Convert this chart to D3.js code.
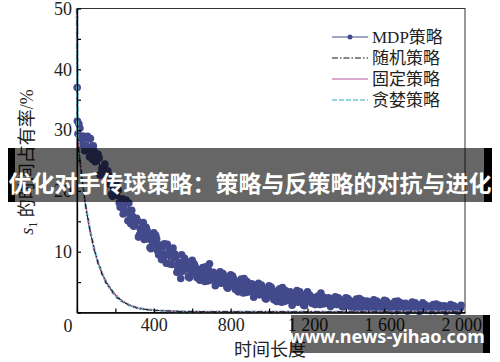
<!DOCTYPE html>
<html>
<head>
<meta charset="utf-8">
<script src="https://cdn.jsdelivr.net/npm/d3@7"></script>
<style>
  body { margin: 0; background: #fff; }
  svg { display: block; }
</style>
</head>
<body>
<svg width="500" height="362"></svg>
<script>
// Series names (legend order)
const seriesNames = ["MDP策略", "随机策略", "固定策略", "贪婪策略"];

// MDP strategy: share of s1 (%), two interleaved samplings
const mdpTimeA = [1, 2].concat(d3.range(10, 2001, 10));
const mdpValueA = [37, 31.5,
  31.0, 28.3, 29.0, 26.6, 28.7, 27.1, 28.6, 25.2, 26.5, 25.0,
  26.0, 22.6, 23.7, 23.8, 21.5, 23.3, 21.1, 19.5, 20.5, 21.4,
  20.8, 18.0, 18.6, 16.2, 18.2, 16.6, 18.0, 14.6, 15.8, 14.3,
  15.5, 12.4, 13.7, 14.1, 12.0, 14.0, 12.1, 10.7, 12.0, 13.1,
  12.7, 10.1, 10.9, 8.7, 10.9, 9.5, 11.2, 8.0, 9.5, 10.6,
  9.6, 6.6, 8.2, 5.6, 6.8, 8.9, 7.2, 5.9, 7.4, 8.6,
  8.0, 6.2, 6.8, 5.3, 7.1, 6.2, 7.5, 5.2, 8.0, 5.5,
  6.6, 4.4, 5.7, 6.1, 4.8, 6.4, 5.1, 4.2, 5.3, 6.2,
  6.0, 4.2, 4.9, 3.4, 5.2, 4.3, 5.6, 3.3, 4.5, 3.6,
  4.7, 2.5, 3.8, 4.2, 2.9, 4.5, 3.2, 2.3, 3.4, 4.4,
  4.2, 2.5, 3.2, 1.8, 3.6, 2.7, 4.1, 1.8, 3.1, 2.2,
  3.4, 1.2, 2.5, 2.9, 1.7, 3.4, 2.1, 1.2, 2.4, 3.4,
  2.9, 1.7, 2.3, 1.3, 2.5, 1.9, 3.2, 1.4, 2.2, 1.7,
  2.4, 1.0, 1.8, 2.1, 1.3, 2.4, 1.5, 1.0, 1.7, 2.4,
  2.3, 1.2, 1.7, 0.7, 1.9, 1.4, 2.3, 0.8, 1.6, 1.1,
  1.9, 0.5, 1.3, 1.6, 0.8, 1.9, 1.1, 0.5, 1.3, 2.0,
  1.9, 0.7, 1.3, 0.3, 1.5, 1.0, 1.9, 0.4, 1.3, 0.8,
  1.5, 0.2, 1.0, 1.3, 0.4, 1.6, 0.7, 0.2, 1.0, 1.6,
  1.3, 0.5, 0.9, 0.3, 1.1, 0.7, 1.4, 0.4, 1.0, 0.6,
  1.1, 0.2, 0.7, 1.0, 0.4, 1.1, 0.6, 0.2, 0.7, 1.2];
const mdpTimeB = d3.range(5, 2000, 10);
const mdpValueB = [
  29.4, 30.3, 27.6, 29.0, 27.4, 29.0, 25.6, 26.8, 27.4, 24.8,
  25.6, 25.4, 22.9, 23.2, 24.4, 21.5, 22.6, 21.5, 19.1, 20.1,
  19.3, 20.1, 17.3, 18.7, 17.0, 18.5, 15.1, 16.2, 16.8, 14.2,
  15.0, 15.1, 12.8, 13.3, 14.8, 12.2, 13.5, 12.6, 10.5, 11.7,
  11.1, 12.1, 9.5, 11.1, 9.6, 11.3, 8.1, 9.5, 10.3, 7.9,
  9.0, 9.2, 7.2, 7.9, 9.5, 7.0, 8.5, 7.7, 5.7, 7.1,
  6.7, 7.6, 5.7, 7.0, 6.0, 7.4, 5.1, 6.2, 7.0, 5.3,
  6.2, 6.4, 4.9, 5.5, 6.7, 4.9, 6.0, 5.5, 4.0, 5.1,
  4.7, 5.6, 3.8, 5.1, 4.1, 5.5, 3.2, 4.3, 5.1, 3.4,
  4.3, 4.5, 3.0, 3.6, 4.8, 3.0, 4.2, 3.6, 2.2, 3.2,
  3.0, 3.9, 2.1, 3.4, 2.5, 3.9, 1.7, 2.8, 3.6, 2.0,
  2.9, 3.1, 1.7, 2.3, 3.6, 1.9, 3.0, 2.5, 1.1, 2.2,
  2.0, 2.7, 1.5, 2.4, 1.8, 2.7, 1.3, 2.0, 2.5, 1.5,
  2.1, 2.3, 1.3, 1.7, 2.6, 1.4, 2.2, 1.8, 0.9, 1.6,
  1.4, 2.1, 0.9, 1.8, 1.2, 2.2, 0.7, 1.5, 2.0, 0.9,
  1.5, 1.7, 0.8, 1.2, 2.1, 0.9, 1.7, 1.4, 0.4, 1.2,
  1.0, 1.6, 0.5, 1.4, 0.8, 1.8, 0.3, 1.1, 1.6, 0.6,
  1.2, 1.4, 0.4, 0.9, 1.7, 0.6, 1.4, 1.0, 0.2, 0.9,
  0.7, 1.2, 0.4, 1.0, 0.6, 1.3, 0.3, 0.8, 1.2, 0.4,
  0.9, 1.0, 0.3, 0.6, 1.3, 0.4, 1.0, 0.8, 0.2, 0.7];

// The three baseline strategies share one time grid
const baseTime = [0, 3].concat(d3.range(10, 601, 10), d3.range(650, 2001, 50));
const randomValue = [50, 29.5,
  26.2, 23.9, 20.6, 18.9, 16.3, 15.1, 12.8, 11.9, 10.1, 9.5,
  7.9, 7.5, 6.2, 6.0, 4.8, 4.8, 3.9, 3.8, 3.0, 3.0,
  2.3, 2.4, 1.8, 1.9, 1.5, 1.5, 1.1, 1.2, 0.9, 1.0,
  0.7, 0.8, 0.6, 0.7, 0.5, 0.55, 0.4, 0.5, 0.35, 0.42,
  0.3, 0.38, 0.28, 0.33, 0.25, 0.3, 0.22, 0.27, 0.2, 0.25,
  0.18, 0.22, 0.17, 0.2, 0.15, 0.18, 0.14, 0.17, 0.13, 0.15,
  0.13, 0.11, 0.14, 0.1, 0.12, 0.11, 0.13, 0.1, 0.12, 0.11,
  0.1, 0.12, 0.11, 0.1, 0.12, 0.1, 0.11, 0.1, 0.12, 0.1,
  0.11, 0.1, 0.1, 0.11, 0.1, 0.1, 0.11, 0.1];
const fixedValue = [50, 28.8,
  27.0, 23.2, 21.5, 18.3, 17.0, 14.4, 13.6, 11.4, 10.8, 8.9,
  8.6, 7.0, 6.8, 5.5, 5.4, 4.3, 4.4, 3.4, 3.5, 2.7,
  2.8, 2.1, 2.2, 1.6, 1.8, 1.3, 1.4, 1.0, 1.1, 0.8,
  0.9, 0.65, 0.75, 0.55, 0.6, 0.45, 0.5, 0.38, 0.45, 0.33,
  0.38, 0.3, 0.34, 0.28, 0.3, 0.25, 0.28, 0.22, 0.25, 0.2,
  0.22, 0.18, 0.2, 0.17, 0.19, 0.15, 0.17, 0.14, 0.16, 0.14,
  0.12, 0.14, 0.1, 0.13, 0.11, 0.12, 0.1, 0.13, 0.11, 0.12,
  0.1, 0.11, 0.12, 0.1, 0.11, 0.12, 0.1, 0.11, 0.1, 0.12,
  0.1, 0.11, 0.1, 0.11, 0.1, 0.1, 0.11, 0.1];
const greedyValue = [50, 29.2,
  26.5, 23.5, 21.0, 18.6, 16.6, 14.9, 13.1, 11.8, 10.3, 9.3,
  8.1, 7.4, 6.4, 5.9, 5.0, 4.7, 4.0, 3.7, 3.1, 2.9,
  2.4, 2.3, 1.9, 1.8, 1.55, 1.45, 1.2, 1.15, 0.95, 0.9,
  0.78, 0.74, 0.63, 0.62, 0.52, 0.5, 0.44, 0.43, 0.38, 0.37,
  0.33, 0.32, 0.29, 0.28, 0.26, 0.25, 0.23, 0.22, 0.21, 0.2,
  0.19, 0.18, 0.17, 0.17, 0.16, 0.16, 0.15, 0.15, 0.14, 0.14,
  0.13, 0.13, 0.12, 0.13, 0.12, 0.12, 0.12, 0.11, 0.12, 0.11,
  0.11, 0.12, 0.11, 0.11, 0.11, 0.1, 0.11, 0.11, 0.1, 0.11,
  0.1, 0.1, 0.11, 0.1, 0.1, 0.1, 0.1, 0.1];

// Tick values and labels
const xTickValues = [0, 200, 400, 600, 800, 1000, 1200, 1400, 1600, 1800, 2000];
const xTickLabels = ["", "", "400", "", "800", "", "1 200", "", "1 600", "", "2 000"];
const yTickValues = [0, 5, 10, 15, 20, 25, 30, 35, 40, 45, 50];
const yTickLabels = ["", "", "10", "", "20", "", "30", "", "40", "", "50"];

const colors = { mdp: "#424a8c", random: "#111", fixed: "#b4579e", greedy: "#72ccd2" };
const serif = "'Liberation Serif', 'Noto Sans CJK SC', serif";

const svg = d3.select("svg");

const x = d3.scaleLinear().domain([0, 2020]).range([77, 465]);
const y = d3.scaleLinear().domain([0, 50]).range([312.5, 8.5]);

// plot frame
svg.append("rect")
  .attr("x", x(0)).attr("y", y(50))
  .attr("width", x(2020) - x(0)).attr("height", y(0) - y(50))
  .attr("fill", "none").attr("stroke", "#333").attr("stroke-width", 1);

// MDP series: line + markers
const mdpData = mdpTimeA.map((t, i) => ({ t, v: mdpValueA[i] }))
  .concat(mdpTimeB.map((t, i) => ({ t, v: mdpValueB[i] })))
  .sort((a, b) => a.t - b.t);
const line = d3.line().x(d => x(d.t)).y(d => y(d.v));

svg.append("path").datum(mdpData)
  .attr("d", line).attr("fill", "none")
  .attr("stroke", colors.mdp).attr("stroke-width", 1.6);

svg.append("g").selectAll("circle")
  .data(mdpData).enter().append("circle")
  .attr("cx", d => x(d.t)).attr("cy", d => y(d.v))
  .attr("r", 3.8).attr("fill", colors.mdp);

// baseline strategies
const drawBase = (values, color, width, dash) => {
  const data = baseTime.map((t, i) => ({ t, v: values[i] }));
  svg.append("path").datum(data)
    .attr("d", line).attr("fill", "none")
    .attr("stroke", color).attr("stroke-width", width)
    .attr("stroke-dasharray", dash);
};
drawBase(greedyValue, colors.greedy, 2.6, "5,2");
drawBase(fixedValue, colors.fixed, 1, null);
drawBase(randomValue, colors.random, 1, "6,2,1.5,2");

// Axes
const xAxis = svg.append("g")
  .attr("transform", `translate(0,${y(0)})`)
  .call(d3.axisBottom(x).tickValues(xTickValues)
    .tickFormat((d, i) => xTickLabels[i])
    .tickSize(-4).tickSizeOuter(0).tickPadding(6));

const yAxis = svg.append("g")
  .attr("transform", `translate(${x(0)},0)`)
  .call(d3.axisLeft(y).tickValues(yTickValues)
    .tickFormat((d, i) => yTickLabels[i])
    .tickSize(-4).tickSizeOuter(0).tickPadding(5));

[xAxis, yAxis].forEach(g => {
  g.select(".domain").attr("stroke", "#000").attr("stroke-width", 1.3);
  g.selectAll(".tick line").attr("stroke", "#000").attr("stroke-width", 1.2);
  g.selectAll("text").attr("font-family", serif).attr("font-size", 18).attr("fill", "#222");
});

// shared origin label
svg.append("text")
  .attr("x", x(0) - 9).attr("y", y(0) + 19)
  .attr("text-anchor", "middle")
  .attr("font-family", serif).attr("font-size", 18).attr("fill", "#222")
  .text("0");

// axis titles
svg.append("text")
  .attr("x", 270).attr("y", 356)
  .attr("text-anchor", "middle")
  .attr("font-family", serif).attr("font-size", 18).attr("fill", "#222")
  .text("时间长度");

const yTitle = svg.append("text")
  .attr("transform", "translate(33,162) rotate(-90)")
  .attr("text-anchor", "middle")
  .attr("font-family", serif).attr("font-size", 18).attr("fill", "#222");
yTitle.append("tspan").attr("font-style", "italic").text("s");
yTitle.append("tspan").attr("font-size", 12).attr("dy", 4).text("1");
yTitle.append("tspan").attr("dy", -4).text(" 的时间占有率/%");

// Legend
const legend = svg.append("g").attr("transform", "translate(332,37)");
const legendStyles = [
  { color: colors.mdp, dash: null, width: 1, dot: true },
  { color: colors.random, dash: "6,2,1.5,2", width: 1, dot: false },
  { color: colors.fixed, dash: null, width: 1, dot: false },
  { color: colors.greedy, dash: "5,2", width: 1.6, dot: false }
];
seriesNames.forEach((name, i) => {
  const row = legend.append("g").attr("transform", `translate(0,${i * 21})`);
  const st = legendStyles[i];
  row.append("line")
    .attr("x1", 0).attr("x2", 36).attr("y1", 0).attr("y2", 0)
    .attr("stroke", st.color).attr("stroke-width", st.width)
    .attr("stroke-dasharray", st.dash);
  if (st.dot) row.append("circle").attr("cx", 18).attr("cy", 0).attr("r", 2.5).attr("fill", st.color);
  row.append("text")
    .attr("x", 40).attr("y", 0).attr("dy", "0.35em")
    .attr("font-family", serif).attr("font-size", 17).attr("fill", "#222")
    .text(name);
});

// title banner overlay
svg.append("rect").attr("x", 8).attr("y", 148).attr("width", 484).attr("height", 54)
  .attr("fill", "rgba(0,0,0,0.6)");
svg.append("rect").attr("x", 8).attr("y", 148).attr("width", 7).attr("height", 54).attr("fill", "#000");
svg.append("rect").attr("x", 484).attr("y", 148).attr("width", 8).attr("height", 54).attr("fill", "#000");
svg.append("text")
  .attr("x", 250).attr("y", 184).attr("dy", "0.35em")
  .attr("text-anchor", "middle")
  .attr("font-family", "'Noto Sans CJK SC', sans-serif")
  .attr("font-weight", "bold").attr("font-size", 23).attr("fill", "#fff")
  .text("优化对手传球策略：策略与反策略的对抗与进化");

// watermark overlay
svg.append("rect").attr("x", 291).attr("y", 315).attr("width", 192).attr("height", 38)
  .attr("fill", "rgba(0,0,0,0.6)");
svg.append("rect").attr("x", 483).attr("y", 315).attr("width", 7).attr("height", 38).attr("fill", "#000");
svg.append("text")
  .attr("x", 387).attr("y", 337).attr("dy", "0.35em")
  .attr("text-anchor", "middle")
  .attr("font-family", "'Noto Sans', sans-serif")
  .attr("font-weight", "bold").attr("font-size", 18).attr("fill", "#fff")
  .text("www.news-yihao.com");
</script>
</body>
</html>
